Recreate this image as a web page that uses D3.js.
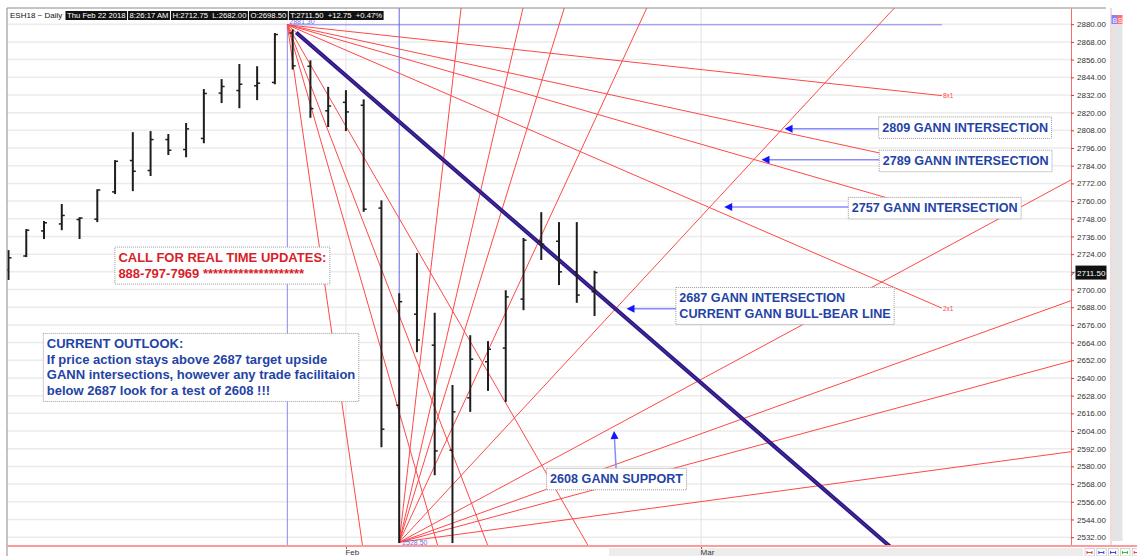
<!DOCTYPE html>
<html>
<head>
<meta charset="utf-8">
<title>ESH18 Daily - Gann fans</title>
<script src="https://cdn.jsdelivr.net/npm/d3@7"></script>
<style>
  body { margin: 0; background: #fff; }
  svg { display: block; }
  text { font-family: "Liberation Sans", Arial, sans-serif; }
</style>
</head>
<body>
<div id="chart"></div>
<script>
// ---- Daily OHLC bars (ESH18) ----
const barDates = ["2018-01-04", "2018-01-05", "2018-01-08", "2018-01-09", "2018-01-10", "2018-01-11",
  "2018-01-12", "2018-01-16", "2018-01-17", "2018-01-18", "2018-01-19", "2018-01-22", "2018-01-23",
  "2018-01-24", "2018-01-25", "2018-01-26", "2018-01-29", "2018-01-30", "2018-01-31", "2018-02-01",
  "2018-02-02", "2018-02-05", "2018-02-06", "2018-02-07", "2018-02-08", "2018-02-09", "2018-02-12",
  "2018-02-13", "2018-02-14", "2018-02-15", "2018-02-16", "2018-02-20", "2018-02-21", "2018-02-22"];
const opens  = [2713.25, 2722.75, 2739.75, 2744.5, 2747.5, 2747.75, 2766.25, 2787.5, 2780.75, 2801.75,
  2795, 2802.5, 2833.25, 2835, 2838.25, 2840.5, 2874, 2851.5, 2821.25, 2827, 2825, 2755.25, 2621.5,
  2683.25, 2662.25, 2591, 2626.5, 2651, 2660.25, 2693.5, 2732.75, 2732.75, 2712, 2698.5];
const highs  = [2726.75, 2741, 2746.5, 2758, 2749, 2768, 2787.75, 2806.75, 2807.5, 2805.5, 2813, 2836,
  2842.75, 2853, 2851.5, 2874, 2876.5, 2855.5, 2837.5, 2835.25, 2829, 2760.5, 2697.5, 2724.75, 2684.25,
  2635.25, 2669, 2665, 2699.5, 2735, 2752.5, 2745.75, 2745.75, 2712.75];
const lows   = [2706.5, 2722, 2734.25, 2740.25, 2734.25, 2745.75, 2764.75, 2766.75, 2777, 2791.25,
  2789.75, 2799.25, 2826.5, 2823, 2828.5, 2839.25, 2849.25, 2816.5, 2810.25, 2807.5, 2752.75, 2593,
  2528, 2657.5, 2574, 2528, 2617, 2631.25, 2623.75, 2686, 2720, 2703, 2691, 2682];
const closes = [2721.5, 2740.25, 2745.25, 2750.25, 2748.5, 2767.5, 2787, 2780.25, 2801.75, 2794.5,
  2809, 2833, 2837.75, 2839.25, 2840, 2873, 2851.75, 2822.75, 2824.5, 2820.5, 2754.5, 2605.25, 2691.75,
  2665.75, 2590.5, 2617, 2652.75, 2659.5, 2695, 2733.5, 2730.75, 2712, 2696.25, 2711.5];

const priceTicks = [2532, 2544, 2556, 2568, 2580, 2592, 2604, 2616, 2628, 2640, 2652, 2664, 2676,
  2688, 2700, 2712, 2724, 2736, 2748, 2760, 2772, 2784, 2796, 2808, 2820, 2832, 2844, 2856, 2868, 2880];
const monthLabels = ["Feb", "Mar"];
const monthTickIdx = [19, 39];     // bar index where each month starts
const lastPrice = 2711.5;

const headerTitle = "ESH18 ~ Daily";
const headerItems = ["Thu Feb 22 2018", "8:26:17 AM", "H:2712.75  L:2682.00", "O:2698.50",
  "T:2711.50  +12.75  +0.47%"];

// ---- Gann fans ----
const gannNames = ["8x1", "4x1", "3x1", "2x1", "1x1", "1x2", "1x3", "1x4", "1x8"];
const gannTime  = [8, 4, 3, 2, 1, 1, 1, 1, 1];
const gannPrice = [1, 1, 1, 1, 1, 2, 3, 4, 8];
const fanLabelNames = ["8x1", "2x1"];   // only these labels show on the chart
const topOriginIdx = 15.7, topOriginPrice = 2879.6, topOriginLabel = "2881.30";
const topFanEndIdx = 52.56, topFanUnit = 10.43;      // points per bar on the 1x1
const lowOriginIdx = 22, lowOriginPrice = 2528.5, lowOriginLabel = "2528.50";
const lowFanEndIdx = 70, lowFanUnit = 13.0;

// ---- Notes (arrow tip at a bar index / price) ----
const noteLines = [
  ["2809 GANN INTERSECTION"],
  ["2789 GANN INTERSECTION"],
  ["2757 GANN INTERSECTION"],
  ["2687 GANN INTERSECTION", "CURRENT GANN BULL-BEAR LINE"],
  ["2608 GANN SUPPORT"]
];
const noteTipIdx   = [43.7, 42.4, 40.3, 34.8, 34.1];
const noteTipPrice = [2809, 2788, 2756, 2687, 2604];
const noteBoxIdx   = [49.0, 49.03, 47.29, 37.58, 30.3];
const noteBoxPrice = [2817.1, 2794.5, 2762.5, 2701.4, 2578.7];

const callLines = ["CALL FOR REAL TIME UPDATES:", "888-797-7969 ********************"];
const outlookLines = ["CURRENT OUTLOOK:", "If price action stays above 2687 target upside",
  "GANN intersections, however any trade facilitaion", "below 2687 look for a test of 2608 !!!"];
const callBoxIdx = 5.99, callBoxPrice = 2728.8;
const outlookBoxIdx = 1.96, outlookBoxPrice = 2670.2;

// ---- Layout ----
const width = 1137, height = 556;
const plot = { left: 7, right: 1071, top: 8, bottom: 546 };
const blueText = "#1f44a6", redText = "#d81e2a", fanRed = "#ff4848";

const svg = d3.select("#chart").append("svg")
  .attr("width", width).attr("height", height);

const x = d3.scaleLinear().domain([-0.085, 59.83]).range([plot.left, plot.right]);
const y = d3.scaleLinear().domain([2526, 2891]).range([plot.bottom, plot.top]);

svg.append("defs").append("clipPath").attr("id", "plotClip").append("rect")
  .attr("x", plot.left).attr("y", plot.top)
  .attr("width", plot.right - plot.left).attr("height", plot.bottom - plot.top);

// Horizontal grid
svg.append("g").selectAll("line").data(priceTicks).join("line")
  .attr("x1", plot.left).attr("x2", plot.right)
  .attr("y1", d => y(d)).attr("y2", d => y(d))
  .attr("stroke", "#ebebeb").attr("stroke-width", 1.5);

// Month grid
svg.append("g").selectAll("line").data(monthTickIdx).join("line")
  .attr("x1", d => x(d)).attr("x2", d => x(d))
  .attr("y1", plot.top).attr("y2", plot.bottom)
  .attr("stroke", "#e2e2e2").attr("stroke-width", 1);

const chartG = svg.append("g").attr("clip-path", "url(#plotClip)");

// Gann base lines (blue)
chartG.append("line")
  .attr("x1", x(topOriginIdx)).attr("x2", x(topFanEndIdx))
  .attr("y1", y(topOriginPrice)).attr("y2", y(topOriginPrice))
  .attr("stroke", "#8888f0").attr("stroke-width", 1);
chartG.append("line")
  .attr("x1", x(topOriginIdx)).attr("x2", x(topOriginIdx))
  .attr("y1", y(topOriginPrice)).attr("y2", plot.bottom)
  .attr("stroke", "#8888f0").attr("stroke-width", 1);
chartG.append("line")
  .attr("x1", x(lowOriginIdx)).attr("x2", x(lowOriginIdx))
  .attr("y1", plot.top).attr("y2", y(lowOriginPrice))
  .attr("stroke", "#6464e4").attr("stroke-width", 1);

// Fan lines
function fan(originIdx, originPrice, unit, dir, endIdx) {
  return gannNames.map((name, k) => {
    const slope = unit * gannPrice[k] / gannTime[k];
    return { name, i1: originIdx, p1: originPrice, i2: endIdx,
             p2: originPrice + dir * slope * (endIdx - originIdx) };
  });
}
const topFan = fan(topOriginIdx, topOriginPrice, topFanUnit, -1, topFanEndIdx);
const lowFan = fan(lowOriginIdx, lowOriginPrice, lowFanUnit, 1, lowFanEndIdx);

chartG.append("g").selectAll("line").data(topFan.concat(lowFan)).join("line")
  .attr("x1", d => x(d.i1)).attr("y1", d => y(d.p1))
  .attr("x2", d => x(d.i2)).attr("y2", d => y(d.p2))
  .attr("stroke", fanRed).attr("stroke-width", 1);

// Fan end labels (top fan)
chartG.append("g").selectAll("text")
  .data(topFan.filter(d => fanLabelNames.includes(d.name)))
  .join("text")
  .attr("x", d => x(d.i2) + 1).attr("y", d => y(d.p2) + 2.5)
  .attr("font-size", 6.5).attr("fill", fanRed)
  .text(d => d.name);

// Current Gann bull-bear line (thick 1x1)
const oneByOne = topFan[gannNames.indexOf("1x1")];
const bbStart = topOriginIdx + 0.5;
const bbStartPrice = topOriginPrice - topFanUnit * 0.5;
chartG.append("line")
  .attr("x1", x(bbStart)).attr("y1", y(bbStartPrice))
  .attr("x2", x(oneByOne.i2)).attr("y2", y(oneByOne.p2))
  .attr("stroke", "#1c1c96").attr("stroke-width", 4);
chartG.append("line")
  .attr("x1", x(bbStart)).attr("y1", y(bbStartPrice))
  .attr("x2", x(oneByOne.i2)).attr("y2", y(oneByOne.p2))
  .attr("stroke", "#b82050").attr("stroke-width", 0.8);

// Origin labels
svg.append("text").attr("x", x(topOriginIdx) + 2).attr("y", y(topOriginPrice) - 1)
  .attr("font-size", 7).attr("fill", "#6a6ae8").text(topOriginLabel);
svg.append("text").attr("x", x(lowOriginIdx) + 3).attr("y", y(lowOriginPrice) + 3)
  .attr("font-size", 7).attr("fill", "#6a6ae8").text(lowOriginLabel);

// OHLC bars
const bars = barDates.map((d, i) => ({ date: d, i, o: opens[i], h: highs[i], l: lows[i], c: closes[i] }));
const barG = chartG.append("g");
barG.selectAll(".hl").data(bars).join("line").attr("class", "hl")
  .attr("x1", d => x(d.i)).attr("x2", d => x(d.i))
  .attr("y1", d => y(d.h)).attr("y2", d => y(d.l))
  .attr("stroke", "#1e1e1e").attr("stroke-width", 2);
barG.selectAll(".op").data(bars).join("line").attr("class", "op")
  .attr("x1", d => x(d.i) - 3).attr("x2", d => x(d.i))
  .attr("y1", d => y(d.o)).attr("y2", d => y(d.o))
  .attr("stroke", "#1e1e1e").attr("stroke-width", 1.5);
barG.selectAll(".cl").data(bars).join("line").attr("class", "cl")
  .attr("x1", d => x(d.i)).attr("x2", d => x(d.i) + 3)
  .attr("y1", d => y(d.c)).attr("y2", d => y(d.c))
  .attr("stroke", "#1e1e1e").attr("stroke-width", 1.5);

// Note boxes
function noteBox(lines, left, top, color, size) {
  const g = svg.append("g");
  const rect = g.append("rect");
  const texts = g.selectAll("text").data(lines).join("text")
    .attr("x", left + 3.5).attr("y", (d, k) => top + 15 + k * 15.5)
    .attr("font-size", size).attr("font-weight", "bold").attr("fill", color)
    .text(d => d);
  let w = 0;
  texts.each(function () { w = Math.max(w, this.getComputedTextLength()); });
  const h = 15 + 15.5 * (lines.length - 1) + 6.5;
  rect.attr("x", left).attr("y", top).attr("width", w + 7).attr("height", h)
    .attr("fill", "#fff").attr("stroke", "#9a9a9a").attr("stroke-dasharray", "1,1");
  return { left, top, w: w + 7, h };
}

function arrow(x1, y1, x2, y2) {
  const ang = Math.atan2(y2 - y1, x2 - x1);
  const len = 8, half = 4;
  svg.append("line").attr("x1", x1).attr("y1", y1).attr("x2", x2 - Math.cos(ang) * 4).attr("y2", y2 - Math.sin(ang) * 4)
    .attr("stroke", "#8a8aff").attr("stroke-width", 1.5);
  const bx = x2 - Math.cos(ang) * len, by = y2 - Math.sin(ang) * len;
  const pts = [[x2, y2],
    [bx - Math.sin(ang) * half, by + Math.cos(ang) * half],
    [bx + Math.sin(ang) * half, by - Math.cos(ang) * half]];
  svg.append("polygon").attr("points", pts.map(p => p.join(",")).join(" ")).attr("fill", "#1414ff");
}

noteLines.forEach((lines, k) => {
  const b = noteBox(lines, x(noteBoxIdx[k]), y(noteBoxPrice[k]), blueText, 12.6);
  const tx = x(noteTipIdx[k]), ty = y(noteTipPrice[k]);
  if (ty > b.top + b.h) {
    arrow(tx, b.top + b.h, tx, ty);
  } else if (ty < b.top) {
    arrow(tx + 2, b.top, tx, ty);
  } else {
    arrow(b.left, ty, tx, ty);
  }
});

noteBox(callLines, x(callBoxIdx), y(callBoxPrice), redText, 13);
noteBox(outlookLines, x(outlookBoxIdx), y(outlookBoxPrice), blueText, 13);

// Frame
svg.append("line").attr("x1", plot.left).attr("x2", 1106).attr("y1", plot.top).attr("y2", plot.top)
  .attr("stroke", "#8a8a8a");
svg.append("line").attr("x1", plot.left).attr("x2", plot.left).attr("y1", plot.top).attr("y2", height)
  .attr("stroke", "#8a8a8a");
svg.append("line").attr("x1", 1111).attr("x2", 1111).attr("y1", plot.top).attr("y2", plot.bottom)
  .attr("stroke", "#f4b0b0");
svg.append("rect").attr("x", 1111.5).attr("y", 24).attr("width", 11).attr("height", 517).attr("fill", "#e4e4e4");
svg.append("rect").attr("x", 1111.5).attr("y", 15).attr("width", 5.5).attr("height", 9).attr("fill", "#8080ff");
svg.append("rect").attr("x", 1117).attr("y", 15).attr("width", 5.5).attr("height", 9).attr("fill", "#ff7070");
svg.append("text").attr("x", 1112.5).attr("y", 22.5).attr("font-size", 7).attr("fill", "#fff").text("B");
svg.append("text").attr("x", 1118).attr("y", 22.5).attr("font-size", 7).attr("fill", "#fff").text("S");

// Right price axis
const yAxis = svg.append("g")
  .attr("transform", `translate(${plot.right},0)`)
  .call(d3.axisRight(y).tickValues(priceTicks).tickFormat(d3.format(".2f")).tickSize(3).tickSizeOuter(0));
yAxis.select(".domain").attr("stroke", "#f07070");
yAxis.selectAll(".tick line").attr("stroke", "#e03030");
yAxis.selectAll(".tick text").attr("font-size", 8).attr("fill", "#333")
  .attr("font-family", "Liberation Sans, Arial, sans-serif");

// Last price tag
const ly = y(lastPrice);
svg.append("line").attr("x1", plot.right).attr("y1", ly + 3).attr("x2", plot.right + 4).attr("y2", ly - 1)
  .attr("stroke", "#333").attr("stroke-width", 0.8);
svg.append("rect").attr("x", plot.right + 4.5).attr("y", ly - 7).attr("width", 31).attr("height", 14)
  .attr("fill", "#111");
svg.append("text").attr("x", plot.right + 6).attr("y", ly + 3).attr("font-size", 8).attr("fill", "#fff")
  .text(d3.format(".2f")(lastPrice));

// Bottom time axis
svg.append("rect").attr("x", 609).attr("y", 548).attr("width", 474).attr("height", 8).attr("fill", "#ececec");
const xAxis = svg.append("g")
  .attr("transform", `translate(0,${plot.bottom})`)
  .call(d3.axisBottom(x).tickValues(monthTickIdx).tickFormat((d, k) => monthLabels[k]).tickSize(3).tickSizeOuter(0));
xAxis.select(".domain").remove();
xAxis.selectAll(".tick line").attr("stroke", "#e03030");
xAxis.selectAll(".tick text").attr("font-size", 8).attr("fill", "#333")
  .attr("text-anchor", "start").attr("x", -1).attr("y", 3)
  .attr("font-family", "Liberation Sans, Arial, sans-serif");
svg.append("line").attr("x1", plot.left).attr("x2", width).attr("y1", plot.bottom).attr("y2", plot.bottom)
  .attr("stroke", "#ff9a9a").attr("stroke-width", 2);

// Small nav buttons bottom right
const navColors = ["#e03030", "#3030e0", "#3030e0", "#20b020", "#e03030"];
const navG = svg.append("g");
navColors.forEach((c, k) => {
  const bx = 1085 + k * 11.8;
  navG.append("rect").attr("x", bx).attr("y", 548.5).attr("width", 9.5).attr("height", 7.5)
    .attr("fill", "#fff").attr("stroke", "#c8c8c8").attr("stroke-width", 0.8);
  navG.append("path").attr("d", `M${bx + 2},${551} v3 M${bx + 2},${552.5} h5 M${bx + 7},${551} v3`)
    .attr("stroke", c).attr("stroke-width", 0.9).attr("fill", "none");
});

// Header strip
svg.append("text").attr("x", 10).attr("y", 18).attr("font-size", 8).attr("fill", "#111")
  .text(headerTitle);
const headG = svg.append("g");
let hx = 65.5;
headerItems.forEach(item => {
  const rect = headG.append("rect").attr("x", hx).attr("y", 11).attr("height", 9).attr("fill", "#111");
  const t = headG.append("text").attr("x", hx + 1.5).attr("y", 18).attr("font-size", 7.7)
    .attr("fill", "#fff").style("white-space", "pre").text(item);
  const w = t.node().getComputedTextLength() + 3;
  rect.attr("width", w);
  hx += w + 1;
});
</script>
</body>
</html>
